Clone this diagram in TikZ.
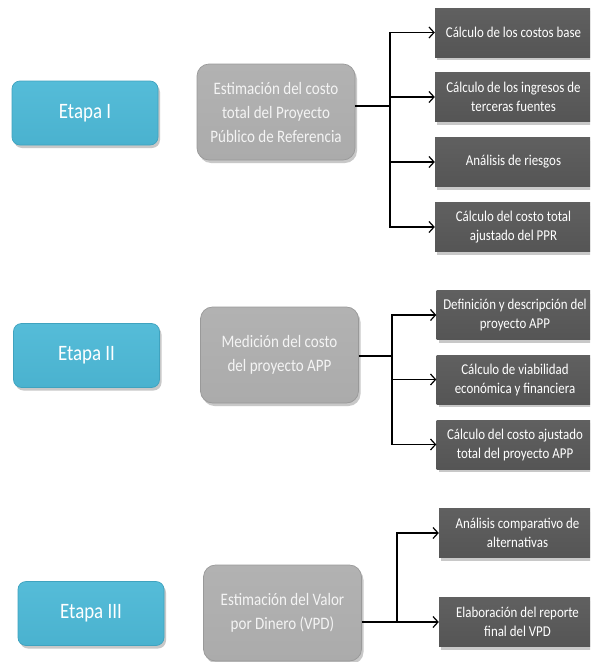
\documentclass[tikz,border=0pt]{standalone}
\usepackage{fontspec}
\setmainfont{Carlito}[FakeStretch=0.86]
\usetikzlibrary{shadows,arrows.meta}

\definecolor{etapaTop}{HTML}{55BCD8}
\definecolor{etapaBot}{HTML}{4AB2CF}
\definecolor{etapaRim}{HTML}{3FA3BF}
\definecolor{greyTop}{HTML}{B2B2B2}
\definecolor{greyBot}{HTML}{ABABAB}
\definecolor{greyRim}{HTML}{999999}
\definecolor{greyText}{HTML}{F4F4F4}
\definecolor{darkTop}{HTML}{606060}
\definecolor{darkBot}{HTML}{555555}

\begin{document}
\begin{tikzpicture}[x=1pt,y=-1pt,
  boxshadow/.style={drop shadow={shadow xshift=2pt,shadow yshift=-3pt,opacity=0.3,fill=black!70}},
  etapabox/.style={rounded corners=8pt,top color=etapaTop,bottom color=etapaBot,
    draw=etapaRim,line width=0.7pt,text=white,inner sep=0pt,
    minimum width=146pt,minimum height=64pt,
    font=\fontsize{22}{26}\selectfont,boxshadow},
  greybox/.style={rounded corners=12pt,top color=greyTop,bottom color=greyBot,
    draw=greyRim,line width=0.7pt,text=greyText,inner sep=0pt,align=center,
    minimum width=158pt,minimum height=96pt,
    font=\fontsize{17.5}{24}\selectfont,boxshadow},
  darkbox/.style={top color=darkTop,bottom color=darkBot,draw=none,text=white,
    inner sep=0pt,align=center,minimum width=157pt,minimum height=49pt,
    font=\fontsize{15}{19}\selectfont,boxshadow},
  link/.style={draw=black,line width=1.2pt},
  arr/.style={link,-{Straight Barb[length=5pt,width=11pt,line width=1.2pt]}}
]
\clip (0,0) rectangle (590,662);
\fill[white] (0,0) rectangle (590,662);

% ---- Etapa I ----
\node[etapabox] (e1) at (85,113) {Etapa I};
\node[greybox] (g1) at (276,112) {Estimación del costo\\total del Proyecto\\Público de Referencia};
\node[darkbox] (d1a) at (513.5,32.5) {Cálculo de los costos base};
\node[darkbox] (d1b) at (513.5,97) {Cálculo de los ingresos de\\terceras fuentes};
\node[darkbox] (d1c) at (513.5,162) {Análisis de riesgos};
\node[darkbox] (d1d) at (513.5,227) {Cálculo del costo total\\ajustado del PPR};
\coordinate (b1) at (390,106);
\draw[link] (g1.east |- b1) -- (b1);
\draw[arr] (b1) |- (d1a.west);
\draw[arr] (b1) |- (d1b.west);
\draw[arr] (b1) |- (d1c.west);
\draw[arr] (b1) |- (d1d.west);

% ---- Etapa II ----
\node[etapabox] (e2) at (86.5,355.5) {Etapa II};
\node[greybox] (g2) at (279.5,355) {Medición del costo\\del proyecto APP};
\node[darkbox] (d2a) at (515,315) {Definición y descripción del\\proyecto APP};
\node[darkbox] (d2b) at (515,379.5) {Cálculo de viabilidad\\económica y financiera};
\node[darkbox] (d2c) at (515,444.5) {Cálculo del costo ajustado\\total del proyecto APP};
\coordinate (b2) at (392,356);
\draw[link] (g2.east |- b2) -- (b2);
\draw[arr] (b2) |- (d2a.west);
\draw[arr] (b2) |- (d2b.west);
\draw[arr] (b2) |- (d2c.west);

% ---- Etapa III ----
\node[etapabox] (e3) at (91,613.5) {Etapa III};
\node[greybox] (g3) at (282.5,613) {Estimación del Valor\\por Dinero (VPD)};
\node[darkbox] (d3a) at (517.5,533) {Análisis comparativo de\\alternativas};
\node[darkbox] (d3b) at (517.5,622) {Elaboración del reporte\\final del VPD};
\coordinate (b3) at (397,622);
\draw[link] (g3.east |- b3) -- (b3);
\draw[arr] (b3) |- (d3a.west);
\draw[arr] (b3) -- (d3b.west);
\end{tikzpicture}
\end{document}
